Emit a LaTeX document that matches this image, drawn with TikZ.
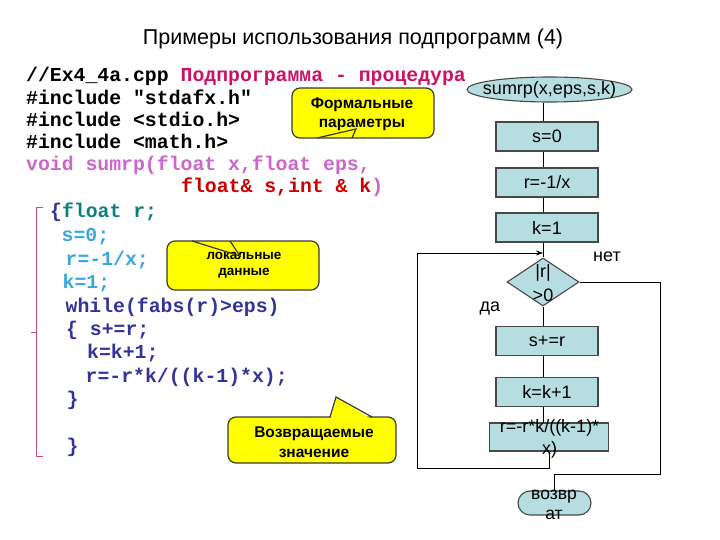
\documentclass[tikz,border=0pt]{standalone}
\usepackage{fontspec}
\setmainfont{Liberation Sans}
\setmonofont{Liberation Mono}
\usetikzlibrary{shapes.geometric,arrows.meta}
\definecolor{crim}{HTML}{CC1166}
\definecolor{violet}{HTML}{CC66CC}
\definecolor{redc}{HTML}{CC0000}
\definecolor{tealc}{HTML}{0E7F7F}
\definecolor{lblue}{HTML}{3AA8DA}
\definecolor{navy}{HTML}{333399}
\definecolor{bracec}{HTML}{D2477F}
\definecolor{calloutfill}{HTML}{FFFF00}
\definecolor{calloutline}{HTML}{3A3A2A}
\definecolor{boxfill}{HTML}{B6DDE0}
\definecolor{boxline}{HTML}{484848}
\begin{document}
\begin{tikzpicture}[x=1pt,y=-1pt,
  code/.style={anchor=base west, inner sep=0pt, font=\ttfamily\bfseries\fontsize{19.8}{23}\selectfont},
  flow/.style={font=\fontsize{18}{22}\selectfont},
  proc/.style={flow, rectangle, draw=boxline, fill=boxfill, line width=1.1pt, inner sep=0pt, minimum width=102pt, minimum height=29pt},
  txt/.style={flow, inner sep=0pt, align=center},
  callout/.style={rectangle, rounded corners=8pt, draw=calloutline, fill=calloutfill, line width=1.2pt, inner sep=0pt},
  calltext/.style={inner sep=0pt, align=center, font=\bfseries\fontsize{15.5}{19.5}\selectfont},
  conn/.style={draw=black, line width=0.8pt},
  tail/.style={draw=calloutline, line width=1.2pt}
]
\useasboundingbox (0,0) rectangle (720,540);

% title
\node[anchor=base, inner sep=0pt, font=\fontsize{21.5}{24}\selectfont] (title) at (353,45) {Примеры использования подпрограмм (4)};

% code listing
\node[code] (c0) at (26,82) {//Ex4\_4a.cpp \textcolor{crim}{Подпрограмма - процедура}};
\node[code] (c1) at (26,104.5) {\#include "stdafx.h"};
\node[code] (c2) at (26,126.5) {\#include <stdio.h>};
\node[code] (c3) at (26,148.5) {\#include <math.h>};
\node[code, text=violet] (c4) at (26,170.5) {void sumrp(float x,float eps,};
\node[code, text=redc] (c5) at (181,193) {float\& s,int \& k\textcolor{violet}{)}};
\node[code, text=tealc] (c6) at (50,218) {\textcolor{navy}{\{}float r;};
\node[code, text=lblue] (c7) at (61.5,241.5) {s=0;};
\node[code, text=lblue] (c8) at (65.5,265) {r=-1/x;};
\node[code, text=lblue] (c9) at (62.5,288.5) {k=1;};
\node[code, text=navy] (c10) at (65.5,312) {while(fabs(r)>eps)};
\node[code, text=navy] (c11) at (66,335) {\{ s+=r;};
\node[code, text=navy] (c12) at (87,358.5) {k=k+1;};
\node[code, text=navy] (c13) at (85.5,382) {r=-r*k/((k-1)*x);};
\node[code, text=navy] (c14) at (66.5,405) {\}};
\node[code, text=navy] (c15) at (66.5,452) {\}};

% brace
\draw[bracec, line width=1pt] (43,208) -- (36.5,208) -- (36.5,456) -- (43,456);
\draw[bracec, line width=1pt] (36.5,332) -- (30.5,332);

% callouts
\node[callout, minimum width=142pt, minimum height=50pt] (cf) at (363,113) {};
\node[calltext] (cft) at (362,114) {Формальные\\параметры};
\draw[tail] (317,138) -- (356,129) -- (352,138);

\node[callout, minimum width=152pt, minimum height=49pt] (cl) at (243,265.5) {};
\node[calltext, font=\bfseries\fontsize{13.5}{16}\selectfont] (clt) at (244,265) {локальные\\данные};
\draw[tail] (192,241) -- (240,256) -- (230,241);

\node[callout, minimum width=168pt, minimum height=46pt] (cv) at (312,440) {};
\fill[calloutfill] (330.5,419.5) -- (336,397) -- (372,419.5) -- cycle;
\draw[tail] (330,417) -- (336,397) -- (372,417);
\node[calltext] (cvt) at (314,442) {Возвращаемые\\значение};

% flowchart
\node[ellipse, draw=boxline, fill=boxfill, line width=1.1pt, inner sep=0pt, minimum width=165pt, minimum height=25pt] (e) at (549.5,89.5) {};
\node[txt] (et) at (549.5,89.5) {sumrp(x,eps,s,k)};
\node[proc] (b1) at (547,136.5) {s=0};
\node[proc] (b2) at (547,182.5) {r=-1/x};
\node[proc] (b3) at (547,227.5) {k=1};
\node[diamond, draw=boxline, fill=boxfill, line width=1.1pt, inner sep=0pt, minimum width=72pt, minimum height=48pt] (d) at (543,282) {};
\node[txt, font=\fontsize{18}{24}\selectfont] (dt) at (543,283) {|r|\\>0};
\node[proc] (b4) at (547,341) {s+=r};
\node[proc] (b5) at (547,392) {k=k+1};
\node[proc, minimum width=119pt, minimum height=28pt] (b6) at (549,437) {};
\node[txt] (b6t) at (549.5,439) {r=-r*k/((k-1)*\\x)};
\node[rectangle, rounded corners=12pt, draw=boxline, fill=boxfill, line width=1.1pt, inner sep=0pt, minimum width=73pt, minimum height=24pt] (t) at (554.5,503) {};
\node[txt, font=\fontsize{17.5}{20}\selectfont] (tt) at (554,505) {возвр\\ат};

\node[txt] (net) at (607,257) {нет};
\node[txt] (da) at (490,308) {да};

\coordinate (m) at (543,253);
\coordinate (lb) at (417,468);
\coordinate (lt) at (417,253);
\coordinate (rr) at (660,474);

\draw[conn] (e.south -| d) -- (b1.north -| d);
\draw[conn] (b1.south -| d) -- (b2.north -| d);
\draw[conn] (b2.south -| d) -- (b3.north -| d);
\draw[conn] (b3.south -| d) -- (d.north);
\draw[conn] (d.south) -- (b4.north -| d);
\draw[conn] (b4.south -| d) -- (b5.north -| d);
\draw[conn] (b5.south -| d) -- (b6.north -| d);
\draw[conn, -{Stealth[length=7pt,width=5pt]}] (b6.south) |- (lb) -- (lt) -- (m);
\draw[conn] (d.east) -| (rr) -| (t.north);
\end{tikzpicture}
\end{document}
